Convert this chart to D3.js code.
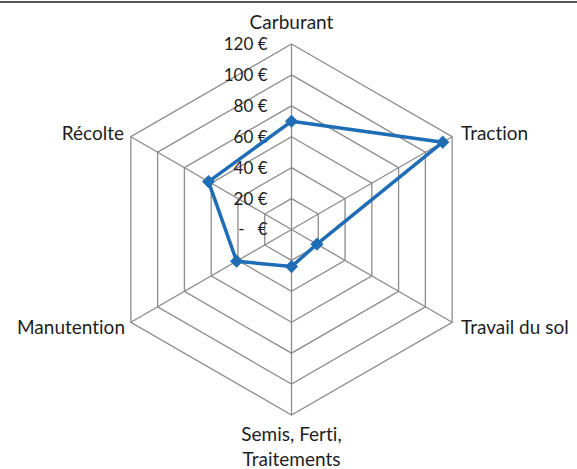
<!DOCTYPE html>
<html lang="fr">
<head>
<meta charset="utf-8">
<title>Radar coûts</title>
<script src="https://cdn.jsdelivr.net/npm/d3@7"></script>
<style>
  body { margin: 0; background: #ffffff; }
  svg { display: block; }
  text { font-family: Lato, "Open Sans", sans-serif; fill: #1e1e1e; font-variant-ligatures: none; }
</style>
</head>
<body>
<script>
  // postes de coût (sens horaire depuis le haut)
  let categories = ["Carburant", "Traction", "Travail du sol", "Semis, Ferti,\nTraitements", "Manutention", "Récolte"]
  let values = [70, 113, 19, 24, 41, 62]
  let ticks = [0, 20, 40, 60, 80, 100, 120]
  let tickLabels = ["-   €", "20 €", "40 €", "60 €", "80 €", "100 €", "120 €"]

  let w = 577
  let h = 469
  let cx = 291.5
  let cy = 229.5
  let radius = 185.5

  let rScale = d3.scaleLinear()
    .domain([0, 120])
    .range([0, radius])

  let angle = d3.scalePoint()
    .domain(d3.range(categories.length + 1))
    .range([0, 2 * Math.PI])

  function pt(i, v) {
    let a = angle(i % categories.length)
    return [cx + rScale(v) * Math.sin(a), cy - rScale(v) * Math.cos(a)]
  }

  let svg = d3.select("body").append("svg")
    .attr("width", w)
    .attr("height", h)

  // trait en haut
  svg.append("line")
    .attr("x1", 0).attr("x2", w)
    .attr("y1", 2).attr("y2", 2)
    .attr("stroke", "#555")
    .attr("stroke-width", 2)

  let grid = svg.append("g")

  // hexagones
  grid.selectAll("polygon")
    .data(ticks.slice(1))
    .enter()
    .append("polygon")
    .attr("points", (t) => categories.map((c, i) => pt(i, t).join(",")).join(" "))
    .attr("fill", "none")
    .attr("stroke", "#8c8c8c")
    .attr("stroke-width", 1.3)

  // rayons
  grid.selectAll("line.spoke")
    .data(categories)
    .enter()
    .append("line")
    .attr("class", "spoke")
    .attr("x1", cx).attr("y1", cy)
    .attr("x2", (d, i) => pt(i, 120)[0])
    .attr("y2", (d, i) => pt(i, 120)[1])
    .attr("stroke", "#8c8c8c")
    .attr("stroke-width", 1.3)

  // étiquettes des graduations
  svg.selectAll("text.tick")
    .data(ticks)
    .enter()
    .append("text")
    .attr("class", "tick")
    .attr("x", cx - 24)
    .attr("y", (t) => cy - rScale(t))
    .attr("dy", "0.35em")
    .attr("text-anchor", "end")
    .style("font-size", "17px")
    .style("white-space", "pre")
    .text((t, i) => tickLabels[i])

  // série
  let line = d3.line()
    .x((d, i) => pt(i, d)[0])
    .y((d, i) => pt(i, d)[1])
    .curve(d3.curveLinearClosed)

  svg.append("path")
    .datum(values)
    .attr("d", line)
    .attr("fill", "none")
    .attr("stroke", "#1f6db5")
    .attr("stroke-width", 3.5)
    .attr("stroke-linejoin", "round")

  svg.selectAll("path.marker")
    .data(values)
    .enter()
    .append("path")
    .attr("class", "marker")
    .attr("d", d3.symbol().type(d3.symbolDiamond2).size(110))
    .attr("transform", (d, i) => "translate(" + pt(i, d).join(",") + ")")
    .attr("fill", "#1f6db5")

  // libellés des axes
  let labelPos = [
    { x: cx, y: 22, anchor: "middle" },
    { x: 461, y: 133, anchor: "start" },
    { x: 461, y: 327, anchor: "start" },
    { x: cx, y: 434, anchor: "middle" },
    { x: 125, y: 327, anchor: "end" },
    { x: 124, y: 133, anchor: "end" }
  ]

  categories.forEach(function(c, i) {
    let lines = c.split("\n")
    lines.forEach(function(l, j) {
      svg.append("text")
        .attr("x", labelPos[i].x)
        .attr("y", labelPos[i].y + j * 25)
        .attr("text-anchor", labelPos[i].anchor)
        .attr("dy", "0.35em")
        .style("font-size", "19px")
        .text(l)
    })
  })
</script>
</body>
</html>
